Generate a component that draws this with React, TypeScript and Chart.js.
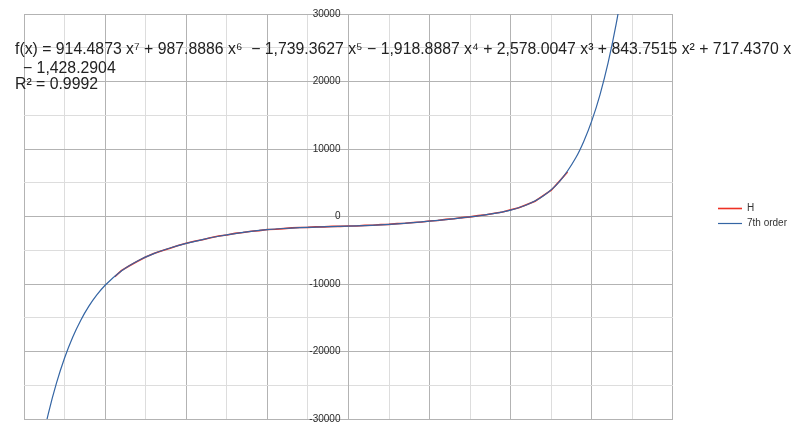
import { useEffect, useRef } from "react";
import { Chart, registerables } from "chart.js";

Chart.register(...registerables);

// Series "H" (measured data)
const hX = [-1.44, -1.4, -1.35, -1.3, -1.25, -1.2, -1.15, -1.1, -1.05, -1.0, -0.95, -0.9, -0.85, -0.8, -0.75, -0.7, -0.65, -0.6, -0.55, -0.5, -0.45, -0.4, -0.35, -0.3, -0.25, -0.2, -0.15, -0.1, -0.05, 0, 0.05, 0.1, 0.15, 0.2, 0.25, 0.3, 0.35, 0.4, 0.45, 0.5, 0.55, 0.6, 0.65, 0.7, 0.75, 0.8, 0.85, 0.9, 0.95, 1.0, 1.05, 1.1, 1.15, 1.2, 1.25, 1.3, 1.35];
const hY = [-8900, -8020, -7290, -6640, -6000, -5480, -5060, -4700, -4300, -3960, -3680, -3440, -3150, -2900, -2740, -2500, -2380, -2180, -2090, -1930, -1880, -1790, -1690, -1620, -1610, -1540, -1540, -1470, -1470, -1410, -1400, -1320, -1300, -1200, -1170, -1060, -1010, -880, -820, -660, -590, -420, -330, -160, -50, 130, 260, 490, 660, 990, 1280, 1780, 2260, 3080, 3900, 5230, 6600];

// Trend line "7th order"
const trendX = [-1.9, -1.85, -1.8, -1.75, -1.7, -1.65, -1.6, -1.55, -1.5, -1.4, -1.3, -1.2, -1.1, -1.0, -0.9, -0.8, -0.7, -0.6, -0.5, -0.4, -0.3, -0.2, -0.1, 0, 0.1, 0.2, 0.3, 0.4, 0.5, 0.6, 0.7, 0.8, 0.9, 1.0, 1.1, 1.2, 1.3, 1.4, 1.45, 1.5, 1.55, 1.6, 1.65, 1.7];
const trendY = [-34634, -29195, -24685, -20957, -17885, -15360, -13287, -11585, -10185, -8072, -6591, -5507, -4668, -3986, -3414, -2931, -2529, -2205, -1956, -1774, -1648, -1561, -1494, -1428, -1346, -1234, -1086, -903, -688, -449, -190, 100, 457, 955, 1735, 3022, 5162, 8656, 11120, 14202, 18029, 22747, 28522, 35543];

const seriesNames = ["H", "7th order"];
const xRange = [-2, 2];
const yRange = [-30000, 30000];
const equationLines = [
  "f(x) = 914.4873 x⁷ + 987.8886 x⁶  − 1,739.3627 x⁵ − 1,918.8887 x⁴ + 2,578.0047 x³ + 843.7515 x² + 717.4370 x",
  "− 1,428.2904",
  "R² = 0.9992",
];

const FONT = '"Liberation Sans", Arial, sans-serif';

const equationPlugin = {
  id: "equation",
  beforeDatasetsDraw(chart: any) {
    const ctx = chart.ctx;
    ctx.save();
    ctx.font = `15.8px ${FONT}`;
    ctx.fillStyle = "#222";
    ctx.textBaseline = "alphabetic";
    ctx.textAlign = "left";
    ctx.fillText(equationLines[0], 15, 53.5);
    ctx.fillText(equationLines[1], 23, 72.7);
    ctx.fillText(equationLines[2], 15, 89.3);
    ctx.restore();
  },
};

const isMajorX = (v: number) => Math.abs(v * 2 - Math.round(v * 2)) < 1e-9;

export default function App() {
  const ref = useRef<HTMLCanvasElement>(null);
  useEffect(() => {
    const chart = new Chart(ref.current!, {
      type: "line",
      data: {
        datasets: [
          {
            label: seriesNames[0],
            data: hX.map((x, i) => ({ x, y: hY[i] })),
            borderColor: "#ee3124",
            backgroundColor: "#ee3124",
            borderWidth: 1.6,
            pointRadius: 0,
            tension: 0,
            order: 1,
          },
          {
            label: seriesNames[1],
            data: trendX.map((x, i) => ({ x, y: trendY[i] })),
            borderColor: "#3465a4",
            backgroundColor: "#3465a4",
            borderWidth: 1.2,
            pointRadius: 0,
            cubicInterpolationMode: "monotone",
            order: 0,
          },
        ],
      },
      options: {
        animation: false,
        responsive: false,
        devicePixelRatio: 1,
        layout: { padding: { left: 24, top: 12, bottom: 13, right: 3 } },
        plugins: {
          tooltip: { enabled: false },
          legend: {
            position: "right",
            align: "center",
            labels: {
              usePointStyle: true,
              pointStyle: "line",
              pointStyleWidth: 24,
              padding: 5,
              color: "#333",
              font: { size: 10, family: FONT },
              sort: (a: any, b: any) => a.datasetIndex - b.datasetIndex,
            },
          },
        },
        scales: {
          x: {
            type: "linear",
            position: "bottom",
            min: xRange[0],
            max: xRange[1],
            ticks: { display: false, stepSize: 0.25 },
            grid: {
              color: (c: any) => (isMajorX(c.tick.value) ? "#b3b3b3" : "#dddddd"),
              drawTicks: false,
            },
            border: { color: "#b3b3b3" },
            afterFit: (s: any) => {
              s.height = 0;
            },
          },
          y: {
            type: "linear",
            position: "center",
            min: yRange[0],
            max: yRange[1],
            ticks: {
              stepSize: 5000,
              autoSkip: false,
              padding: 8,
              color: "#2a2a2a",
              font: { size: 10, family: FONT },
              callback: (v: any) => (Number(v) % 10000 === 0 ? String(v) : ""),
            },
            grid: {
              color: (c: any) => (c.tick.value % 10000 === 0 ? "#b3b3b3" : "#dddddd"),
              drawTicks: false,
            },
            border: { color: "#b3b3b3" },
          },
          gap: {
            type: "linear",
            axis: "y",
            position: "right",
            display: true,
            ticks: { display: false },
            grid: { display: false, drawTicks: false },
            border: { display: false },
            afterFit: (s: any) => {
              s.width = 40;
            },
          },
        },
      } as any,
      plugins: [equationPlugin],
    });
    return () => chart.destroy();
  }, []);
  return (
    <div style={{ position: "fixed", left: 0, top: 0, width: 800, height: 433, background: "#fff" }}>
      <canvas ref={ref} width={800} height={433} style={{ display: "block", width: 800, height: 433 }} />
    </div>
  );
}
